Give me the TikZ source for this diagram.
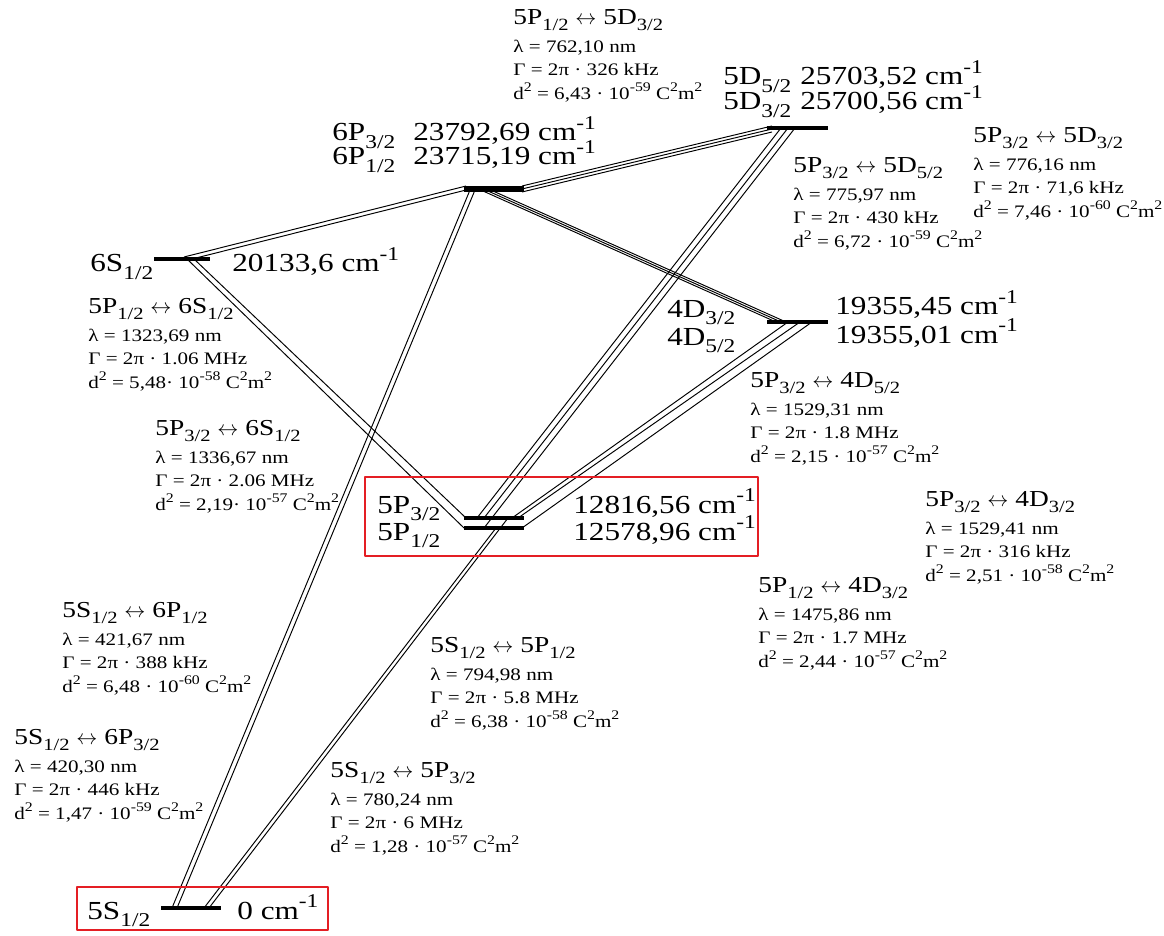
\documentclass[tikz,border=0pt]{standalone}
\usepackage{fontspec}
\setmainfont{Liberation Serif}[FakeStretch=1.2]
\usepackage{graphicx}
\definecolor{boxred}{RGB}{228,30,36}
\begin{document}
\begin{tikzpicture}[x=0.02cm, y=-0.02cm, line join=round,
    lvl/.style={line width=2.3pt},
    tr/.style={line width=0.55pt},
    redbox/.style={draw=boxred, line width=1.1pt},
    lbl/.style={anchor=base west, inner sep=0pt, font=\fontsize{14.8}{17}\selectfont},
    trn/.style={anchor=north west, inner sep=0pt, align=left, font=\fontsize{10}{13.4}\selectfont}]
  \useasboundingbox (0,0) rectangle (1164,936);
  \def\lo#1{\raisebox{-.27em}{\scalebox{.75}{#1}}}
  \def\hi#1{\raisebox{.45em}{\scalebox{.75}{#1}}}
  \def\lr{ $\leftrightarrow$ }
  \def\hdfont{\fontsize{13}{15}\selectfont}
  \def\trn#1#2#3#4{{\hdfont #1}\\[2.5pt]λ = #2\\Γ = 2π · #3\\d\hi{2} = #4 C\hi{2}m\hi{2}}
  % line ends on the levels
  \foreach \n/\x in {a/172, b/177, c/204, d/209} \coordinate (S5\n) at (\x,908);
  \coordinate (P5a) at (496,528); \coordinate (P5b) at (508,518);
  \coordinate (P5c) at (464,528); \coordinate (P5d) at (466,518);
  \coordinate (P5e) at (477,518); \coordinate (P5f) at (484,518); \coordinate (P5g) at (484,528);
  \coordinate (P5h) at (512,518); \coordinate (P5i) at (518,518); \coordinate (P5j) at (522,528);
  \coordinate (S6a) at (184,257); \coordinate (S6b) at (188,260);
  \coordinate (S6c) at (187,259); \coordinate (S6d) at (194,259);
  \coordinate (P6a) at (470,190); \coordinate (P6b) at (475,190);
  \coordinate (P6c) at (466,186); \coordinate (P6d) at (466,190);
  \foreach \n/\y in {e/186, f/189, g/192} \coordinate (P6\n) at (522,\y);
  \foreach \n/\x in {h/483, i/488, j/493} \coordinate (P6\n) at (\x,191);
  \foreach \n/\y in {a/126, b/129, c/132} \coordinate (D5\n) at (772,\y);
  \foreach \n/\x in {d/781, e/788, f/795} \coordinate (D5\n) at (\x,128);
  \foreach \n/\x in {a/776, b/781, c/786, d/788, e/800, f/812} \coordinate (D4\n) at (\x,322);
  % transitions
  \draw[tr] (S5a) -- (P6a); \draw[tr] (S5b) -- (P6b);
  \draw[tr] (S5c) -- (P5a); \draw[tr] (S5d) -- (P5b);
  \draw[tr] (S6c) -- (P5c); \draw[tr] (S6d) -- (P5d);
  \draw[tr] (S6a) -- (P6c); \draw[tr] (S6b) -- (P6d);
  \draw[tr] (P6e) -- (D5a); \draw[tr] (P6f) -- (D5b); \draw[tr] (P6g) -- (D5c);
  \draw[tr] (P6h) -- (D4a); \draw[tr] (P6i) -- (D4b); \draw[tr] (P6j) -- (D4c);
  \draw[tr] (P5e) -- (D5d); \draw[tr] (P5f) -- (D5e); \draw[tr] (P5g) -- (D5f);
  \draw[tr] (P5h) -- (D4d); \draw[tr] (P5i) -- (D4e); \draw[tr] (P5j) -- (D4f);
  % levels
  \draw[lvl] (161,908) -- (221,908);
  \draw[lvl, line width=2pt] (464,518) -- (524,518);
  \draw[lvl, line width=2pt] (464,528) -- (524,528);
  \draw[lvl] (154,259) -- (210,259);
  \draw[lvl, line width=3.4pt] (464,189) -- (524,189);
  \draw[lvl, line width=2.8pt] (767,128) -- (828,128);
  \draw[lvl, line width=2.8pt] (767,322) -- (828,322);
  % level names and energies
  \node[lbl] (n5d5) at (723,85) {5D\lo{5/2}};
  \node[lbl] (e5d5) at (800,85) {25703,52 cm\hi{-1}};
  \node[lbl] (n5d3) at (723,110) {5D\lo{3/2}};
  \node[lbl] (e5d3) at (800,110) {25700,56 cm\hi{-1}};
  \node[lbl] (n6p3) at (332,141) {6P\lo{3/2}};
  \node[lbl] (e6p3) at (413,141) {23792,69 cm\hi{-1}};
  \node[lbl] (n6p1) at (332,165) {6P\lo{1/2}};
  \node[lbl] (e6p1) at (413,165) {23715,19 cm\hi{-1}};
  \node[lbl] (n6s) at (90,272) {6S\lo{1/2}};
  \node[lbl] (e6s) at (232,272) {20133,6 cm\hi{-1}};
  \node[lbl] (n4d3) at (667,317) {4D\lo{3/2}};
  \node[lbl] (n4d5) at (667,345) {4D\lo{5/2}};
  \node[lbl] (e4d3) at (835,315) {19355,45 cm\hi{-1}};
  \node[lbl] (e4d5) at (835,343) {19355,01 cm\hi{-1}};
  \node[lbl] (n5p3) at (377,513) {5P\lo{3/2}};
  \node[lbl] (n5p1) at (377,540) {5P\lo{1/2}};
  \node[lbl] (e5p3) at (573,513) {12816,56 cm\hi{-1}};
  \node[lbl] (e5p1) at (573,540) {12578,96 cm\hi{-1}};
  \node[lbl] (n5s) at (87,919) {5S\lo{1/2}};
  \node[lbl] (e5s) at (237,919) {0 cm\hi{-1}};
  % transition data
  \node[trn] (p1d53) at (513,9) {\trn{5P\lo{1/2}\lr 5D\lo{3/2}}{762,10 nm}{326 kHz}{6,43 · 10\hi{-59}}};
  \node[trn] (p3d53) at (973,127) {\trn{5P\lo{3/2}\lr 5D\lo{3/2}}{776,16 nm}{71,6 kHz}{7,46 · 10\hi{-60}}};
  \node[trn] (p3d55) at (793,157) {\trn{5P\lo{3/2}\lr 5D\lo{5/2}}{775,97 nm}{430 kHz}{6,72 · 10\hi{-59}}};
  \node[trn] (p1s6) at (88,298) {\trn{5P\lo{1/2}\lr 6S\lo{1/2}}{1323,69 nm}{1.06 MHz}{5,48· 10\hi{-58}}};
  \node[trn] (p3d45) at (750,372) {\trn{5P\lo{3/2}\lr 4D\lo{5/2}}{1529,31 nm}{1.8 MHz}{2,15 · 10\hi{-57}}};
  \node[trn] (p3s6) at (155,420) {\trn{5P\lo{3/2}\lr 6S\lo{1/2}}{1336,67 nm}{2.06 MHz}{2,19· 10\hi{-57}}};
  \node[trn] (p3d43) at (925,491) {\trn{5P\lo{3/2}\lr 4D\lo{3/2}}{1529,41 nm}{316 kHz}{2,51 · 10\hi{-58}}};
  \node[trn] (p1d43) at (758,577) {\trn{5P\lo{1/2}\lr 4D\lo{3/2}}{1475,86 nm}{1.7 MHz}{2,44 · 10\hi{-57}}};
  \node[trn] (s6p1) at (62,602) {\trn{5S\lo{1/2}\lr 6P\lo{1/2}}{421,67 nm}{388 kHz}{6,48 · 10\hi{-60}}};
  \node[trn] (s5p1) at (430,637) {\trn{5S\lo{1/2}\lr 5P\lo{1/2}}{794,98 nm}{5.8 MHz}{6,38 · 10\hi{-58}}};
  \node[trn] (s6p3) at (14,729) {\trn{5S\lo{1/2}\lr 6P\lo{3/2}}{420,30 nm}{446 kHz}{1,47 · 10\hi{-59}}};
  \node[trn] (s5p3) at (330,762) {\trn{5S\lo{1/2}\lr 5P\lo{3/2}}{780,24 nm}{6 MHz}{1,28 · 10\hi{-57}}};
  % boxes
  \draw[redbox] (365,477) rectangle (758,556);
  \draw[redbox] (77,887) rectangle (328,930);
\end{tikzpicture}
\end{document}
